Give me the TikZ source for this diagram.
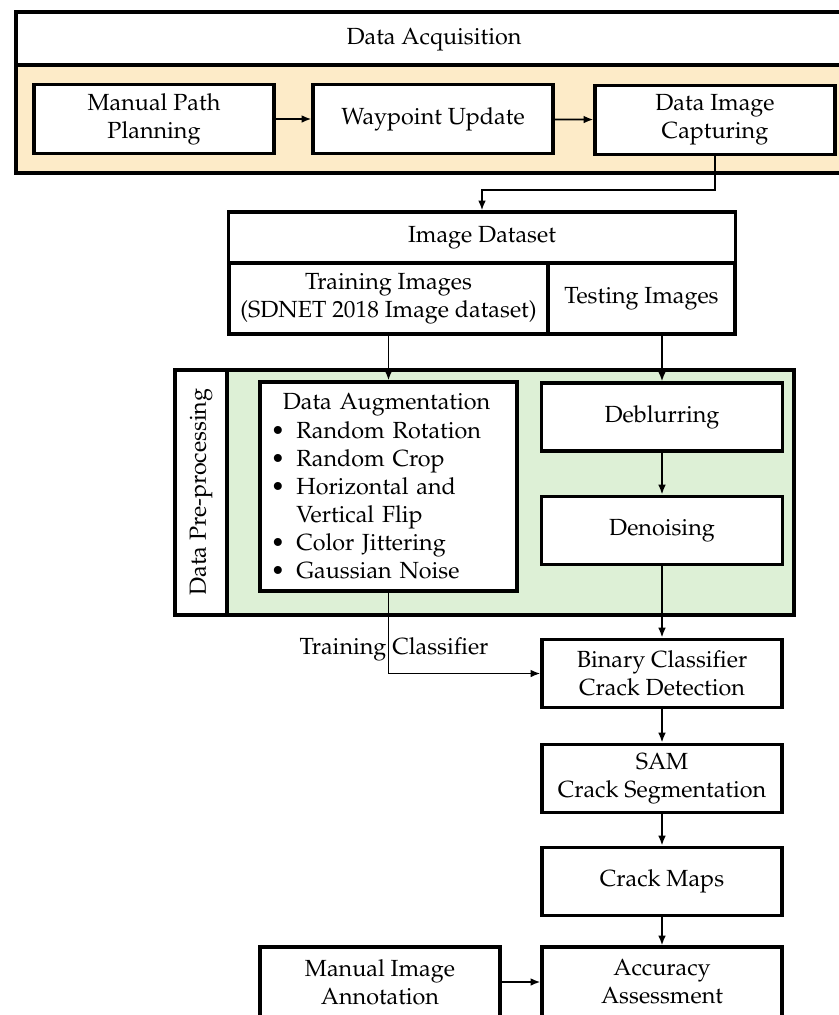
\documentclass[tikz,border=0pt]{standalone}
\usepackage[T1]{fontenc}
\usepackage{mathpazo}
\usepackage{tikz}
\usetikzlibrary{positioning, arrows.meta, calc}

\definecolor{acqfill}{RGB}{253,235,200}
\definecolor{prefill}{RGB}{221,240,214}

\begin{document}
\begin{tikzpicture}[x=0.025cm, y=-0.025cm,
  every node/.style={font=\fontsize{16.6}{20}\selectfont},
  box/.style={draw, line width=2.2pt, fill=white, align=center, inner sep=1pt,
    minimum width=6cm, minimum height=1.72cm},
  frame/.style={draw, line width=2.2pt},
  link/.style={line width=1.3pt, -{Latex[length=7pt, width=5.5pt]}}]
\useasboundingbox (0,0) rectangle (838,1015);
% Data acquisition block
\draw[frame, fill=white] (16,12) rectangle (852,65);
\draw[frame, fill=acqfill] (16,65) rectangle (852,173);
\node (acq) at (434,40) {Data Acquisition};
\node[box] (mpp) at (154,119) {Manual Path\\Planning};
\node[box] (wu) at (433,119) {Waypoint Update};
\node[box] (dic) at (715,120) {Data Image\\Capturing};
\draw[link] (mpp) -- (wu);
\draw[link] (wu) -- (dic);
% Image dataset table
\node[box, minimum width=12.65cm, minimum height=1.275cm] (ids) at (482,237.5) {Image Dataset};
\node[box, minimum width=7.975cm, minimum height=1.775cm] (train) at (388.5,298.5) {Training Images\\(SDNET 2018 Image dataset)};
\node[box, minimum width=4.675cm, minimum height=1.775cm] (test) at (641.5,298.5) {Testing Images};
\draw[link, line width=2pt] (dic.south) -- ++(0,34) -| (ids.north);
% Pre-processing block
\draw[frame, fill=prefill] (175,370) rectangle (794,615);
\draw[frame, fill=white] (175,370) rectangle (227,615);
\node[rotate=90] (pre) at (201,492) {Data Pre-processing};
\node[box, align=left, text width=5.885cm, inner xsep=0.27cm, minimum height=5.225cm] (aug) at (388.5,486.5)
  {\hspace*{0.3cm}Data Augmentation\\
   \makebox[0.64cm][l]{\textbullet}Random Rotation\\
   \makebox[0.64cm][l]{\textbullet}Random Crop\\
   \makebox[0.64cm][l]{\textbullet}Horizontal and\\
   \makebox[0.64cm][l]{}Vertical Flip\\
   \makebox[0.64cm][l]{\textbullet}Color Jittering\\
   \makebox[0.64cm][l]{\textbullet}Gaussian Noise};
\node[box, minimum width=6.025cm, minimum height=1.7cm] (deblur) at (662,417) {Deblurring};
\node[box, minimum width=6.025cm] (denoise) at (662,530.5) {Denoising};
\draw[link] (train.south) -- (aug.north);
\draw[link] (test.south -| deblur.north) -- (deblur.north);
\draw[link] (deblur) -- (denoise);
% Classification and evaluation chain
\node[box] (binary) at (662,673.5) {Binary Classifier\\Crack Detection};
\node[box] (sam) at (662,778.5) {SAM\\Crack Segmentation};
\node[box] (maps) at (662,881.5) {Crack Maps};
\node[box, minimum height=1.75cm] (acc) at (662,982) {Accuracy\\Assessment};
\node[box, minimum height=1.75cm] (annot) at (380,982) {Manual Image\\Annotation};
\node (trainlbl) at (394,649) {Training Classifier};
\draw[link] (denoise) -- (binary);
\draw[link] (aug.south) |- (binary.west);
\draw[link] (binary) -- (sam);
\draw[link] (sam) -- (maps);
\draw[link] (maps) -- (acc);
\draw[link] (annot) -- (acc);
\end{tikzpicture}
\end{document}
